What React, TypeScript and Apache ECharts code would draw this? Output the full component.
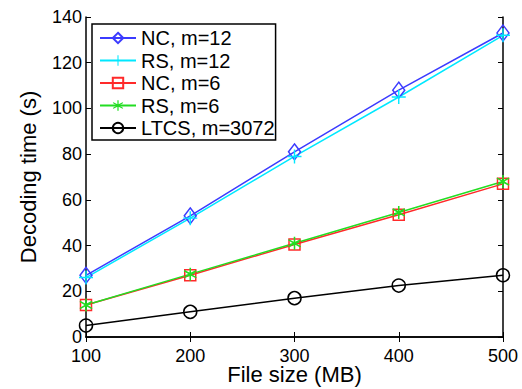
import React, { useEffect, useRef } from "react";
import * as echarts from "echarts";

const fileSizes = [100, 200, 300, 400, 500];
const ncM12 = [27, 53, 81, 108, 133];
const rsM12 = [26, 52, 79, 105, 132];
const ncM6 = [14, 27, 40.5, 53.5, 67];
const rsM6 = [14, 27.5, 41, 54.5, 68];
const ltcs = [5, 11, 17, 22.5, 27];
const seriesNames = ["NC, m=12", "RS, m=12", "NC, m=6", "RS, m=6", "LTCS, m=3072"];

const plusPath = "path://M9,0 L11,0 L11,9 L20,9 L20,11 L11,11 L11,20 L9,20 L9,11 L0,11 L0,9 L9,9 Z";
const starPath =
  "path://M9,0 L11,0 L11,7.6 L17.4,3.6 L18.4,5.4 L12,10 L18.4,14.6 L17.4,16.4 L11,12.4 L11,20 L9,20 L9,12.4 L2.6,16.4 L1.6,14.6 L8,10 L1.6,5.4 L2.6,3.6 L9,7.6 Z";

const FONT = "Liberation Sans, Arial, sans-serif";

export default function App() {
  const ref = useRef<HTMLDivElement>(null);
  useEffect(() => {
    if (!ref.current) return;
    const chart = echarts.init(ref.current, undefined, { renderer: "svg" });
    const mk = (name: string, data: number[], color: string, symbol: string, size: any, hollow: boolean) => ({
      name,
      type: "line",
      data: fileSizes.map((x, i) => [x, data[i]]),
      symbol,
      symbolSize: size,
      showAllSymbol: true,
      lineStyle: { color, width: 1.5 },
      itemStyle: hollow
        ? { color: "rgba(255,255,255,0)", borderColor: color, borderWidth: 1.5 }
        : { color, borderWidth: 0 },
      color,
      z: 3,
    });
    chart.setOption({
      animation: false,
      backgroundColor: "#fff",
      textStyle: { fontFamily: FONT },
      grid: { left: 86, right: 19, top: 17, bottom: 52, containLabel: false, outerBoundsMode: "none" },
      legend: {
        orient: "vertical",
        left: 92,
        top: 24,
        data: seriesNames,
        backgroundColor: "#fff",
        borderColor: "#000",
        borderWidth: 1.5,
        borderRadius: 0,
        padding: [4, 1, 2, 7],
        itemGap: 2.5,
        itemWidth: 36,
        itemHeight: 13,
        textStyle: { fontSize: 20, color: "#000", fontFamily: FONT, lineHeight: 20 },
        z: 10,
      },
      xAxis: [
        {
          type: "value",
          min: 100,
          max: 500,
          interval: 100,
          name: "File size (MB)",
          nameLocation: "middle",
          nameGap: 27,
          nameMoveOverlap: false,
          nameTextStyle: { fontSize: 22, color: "#000", fontFamily: FONT, lineHeight: 20, verticalAlign: "top" },
          axisLine: { lineStyle: { color: "#000", width: 1.5 } },
          axisTick: { inside: true, length: 5, lineStyle: { color: "#000" } },
          axisLabel: { fontSize: 18, color: "#000", margin: 10, fontFamily: FONT },
          splitLine: { show: false },
        },
        {
          type: "value",
          position: "top",
          min: 100,
          max: 500,
          interval: 100,
          axisLine: { lineStyle: { color: "#000", width: 1.5 } },
          axisTick: { inside: true, length: 5, lineStyle: { color: "#000" } },
          axisLabel: { show: false },
          splitLine: { show: false },
        },
      ],
      yAxis: [
        {
          type: "value",
          min: 0,
          max: 140,
          interval: 20,
          name: "Decoding time (s)",
          nameLocation: "middle",
          nameGap: 47,
          nameTextStyle: { fontSize: 22, color: "#000", fontFamily: FONT },
          axisLine: { lineStyle: { color: "#000", width: 1.5 } },
          axisTick: { inside: true, length: 5, lineStyle: { color: "#000" } },
          axisLabel: { fontSize: 18, color: "#000", margin: 4, fontFamily: FONT },
          splitLine: { show: false },
        },
        {
          type: "value",
          position: "right",
          min: 0,
          max: 140,
          interval: 20,
          axisLine: { lineStyle: { color: "#000", width: 1.5 } },
          axisTick: { inside: true, length: 5, lineStyle: { color: "#000" } },
          axisLabel: { show: false },
          splitLine: { show: false },
        },
      ],
      series: [
        mk(seriesNames[0], ncM12, "#3b3bff", "diamond", [12, 16], true),
        mk(seriesNames[1], rsM12, "#00e8ff", plusPath, 14, false),
        mk(seriesNames[2], ncM6, "#ff2a2a", "rect", 11, true),
        mk(seriesNames[3], rsM6, "#22dd22", starPath, 13, false),
        mk(seriesNames[4], ltcs, "#000000", "circle", 13, true),
      ],
    });
    return () => chart.dispose();
  }, []);
  return <div ref={ref} style={{ width: 522, height: 389, position: "absolute", left: 0, top: 0 }} />;
}
